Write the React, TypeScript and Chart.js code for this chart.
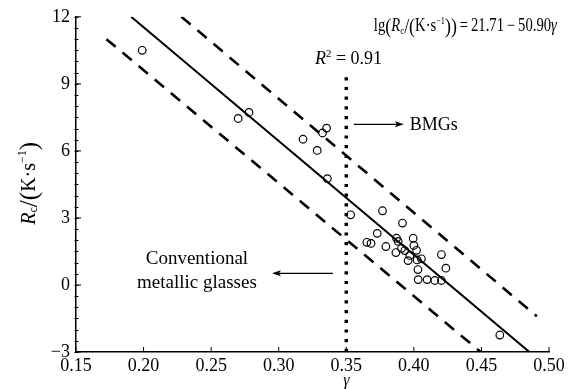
import React, { useEffect, useRef } from "react";
import { Chart, registerables } from "chart.js";

Chart.register(...registerables);

// ---- data ----
const GAMMA = [
  0.199, 0.27, 0.278, 0.318, 0.3285, 0.3324, 0.3354, 0.336, 0.3532, 0.3768,
  0.3916, 0.3729, 0.3652, 0.3683, 0.3793, 0.3872, 0.3884, 0.3909, 0.3995, 0.4,
  0.402, 0.3933, 0.397, 0.3957, 0.4024, 0.3867, 0.4204, 0.4237, 0.403, 0.4032,
  0.4098, 0.4155, 0.4204, 0.4636, 0.4056,
];
const LG_RC = [
  10.5, 7.45, 7.72, 6.52, 6.02, 6.8, 7.02, 4.76, 3.14, 3.32,
  2.77, 2.31, 1.91, 1.86, 1.72, 2.09, 1.95, 1.64, 2.09, 1.77,
  1.55, 1.54, 1.32, 1.09, 1.12, 1.45, 1.36, 0.75, 0.69, 0.24,
  0.24, 0.2, 0.2, -2.24, 1.17,
];
const FIT_X = [0.1908, 0.4855];
const FIT_Y = [12, -3];
const UPPER_X = [0.228, 0.491];
const UPPER_Y = [12, -1.4];
const LOWER_X = [0.1725, 0.4495];
const LOWER_Y = [11.0, -3];
const DIVIDER_X = [0.35, 0.35];
const DIVIDER_Y = [-3, 9.55];
const X_TICKS = [0.15, 0.2, 0.25, 0.3, 0.35, 0.4, 0.45, 0.5];
const Y_TICKS = [-3, 0, 3, 6, 9, 12];

const SERIF = '"Liberation Serif", "Times New Roman", serif';

type Part = { t: string; size?: number; italic?: boolean; dy?: number };

function richWidth(ctx: CanvasRenderingContext2D, parts: Part[], base: number) {
  let w = 0;
  for (const p of parts) {
    ctx.font = `${p.italic ? "italic " : ""}${p.size ?? base}px ${SERIF}`;
    w += ctx.measureText(p.t).width;
  }
  return w;
}

function drawRich(
  ctx: CanvasRenderingContext2D,
  parts: Part[],
  x: number,
  y: number,
  base: number,
  align: "left" | "center" = "left"
) {
  const w = richWidth(ctx, parts, base);
  let cx = align === "center" ? x - w / 2 : x;
  ctx.textAlign = "left";
  for (const p of parts) {
    ctx.font = `${p.italic ? "italic " : ""}${p.size ?? base}px ${SERIF}`;
    ctx.fillText(p.t, cx, y + (p.dy ?? 0));
    cx += ctx.measureText(p.t).width;
  }
}

function arrow(ctx: CanvasRenderingContext2D, x1: number, y: number, x2: number) {
  const dir = Math.sign(x2 - x1);
  ctx.beginPath();
  ctx.moveTo(x1, y);
  ctx.lineTo(x2 - dir * 6, y);
  ctx.lineWidth = 1.2;
  ctx.stroke();
  ctx.beginPath();
  ctx.moveTo(x2, y);
  ctx.lineTo(x2 - dir * 9, y - 3);
  ctx.lineTo(x2 - dir * 7, y);
  ctx.lineTo(x2 - dir * 9, y + 3);
  ctx.closePath();
  ctx.fill();
}

const EQUATION: Part[] = [
  { t: "lg" },
  { t: "(", size: 22, dy: 2 },
  { t: "R", italic: true },
  { t: "c", size: 11, dy: 3 },
  { t: "/", size: 22, dy: 2 },
  { t: "(", size: 22, dy: 2 },
  { t: "K·s" },
  { t: "−1", size: 10, dy: -7 },
  { t: ")", size: 22, dy: 2 },
  { t: ")", size: 22, dy: 2 },
  { t: "\u2009=\u200921.71\u2009−\u200950.90" },
  { t: "γ", italic: true },
];

const deco = {
  id: "deco",
  afterDraw(chart: any) {
    const { ctx, chartArea: a, scales } = chart;
    const xs = scales.x;
    const ys = scales.y;
    const X = (v: number) => xs.getPixelForValue(v);
    const Y = (v: number) => ys.getPixelForValue(v);
    ctx.save();
    ctx.strokeStyle = "#000";
    ctx.fillStyle = "#000";
    ctx.lineWidth = 1;
    // inward major ticks
    ctx.beginPath();
    for (const t of X_TICKS) {
      const px = X(t);
      ctx.moveTo(px, a.bottom);
      ctx.lineTo(px, a.bottom - 5);
    }
    for (const t of Y_TICKS) {
      const py = Y(t);
      ctx.moveTo(a.left, py);
      ctx.lineTo(a.left + 5, py);
    }
    // minor y ticks
    for (let v = -3; v <= 12.001; v += 0.5) {
      const py = Math.round(Y(v)) + 0.5;
      ctx.moveTo(a.left - 1.5, py);
      ctx.lineTo(a.left + 2.5, py);
    }
    ctx.stroke();

    // equation, fitted to its width in the figure
    ctx.textBaseline = "alphabetic";
    const x0 = X(0.3704);
    const x1 = X(0.5058);
    const w = richWidth(ctx, EQUATION, 18);
    const f = Math.min(1, (x1 - x0) / w);
    ctx.save();
    ctx.translate(x0, Y(11.38));
    ctx.scale(f, 1);
    drawRich(ctx, EQUATION, 0, 0, 18);
    ctx.restore();

    // R^2
    drawRich(
      ctx,
      [
        { t: "R", italic: true },
        { t: "2", size: 11, dy: -7 },
        { t: " = 0.91" },
      ],
      X(0.3268),
      Y(9.91),
      18
    );

    // BMGs arrow
    arrow(ctx, X(0.3556), Y(7.19), X(0.3926));
    ctx.font = `18px ${SERIF}`;
    ctx.textBaseline = "middle";
    ctx.textAlign = "left";
    ctx.fillText("BMGs", X(0.397), Y(7.19) + 1);

    // conventional arrow
    arrow(ctx, X(0.3401), Y(0.52), X(0.295));
    ctx.font = `19px ${SERIF}`;
    ctx.textAlign = "center";
    ctx.fillText("Conventional", X(0.2395), Y(1.18));
    ctx.fillText("metallic glasses", X(0.2395), Y(0.07));

    // x title
    ctx.font = `italic 16px ${SERIF}`;
    ctx.fillText("γ", X(0.35), a.bottom + 29);

    // y title
    ctx.translate(30, Y(4.55));
    ctx.rotate(-Math.PI / 2);
    ctx.textBaseline = "middle";
    drawRich(
      ctx,
      [
        { t: "R", italic: true },
        { t: "c", size: 12, dy: 4 },
        { t: "/", size: 25 },
        { t: "(", size: 25 },
        { t: "K·s" },
        { t: "−1", size: 12, dy: -7 },
        { t: ")", size: 25 },
      ],
      0,
      0,
      20,
      "center"
    );
    ctx.restore();
  },
};

export default function App() {
  const ref = useRef<HTMLCanvasElement>(null);
  useEffect(() => {
    if (!ref.current) return;
    const pts = GAMMA.map((g, i) => ({ x: g, y: LG_RC[i] }));
    const seg = (xa: number[], ya: number[]) => xa.map((v, i) => ({ x: v, y: ya[i] }));
    const chart = new Chart(ref.current, {
      type: "scatter",
      data: {
        datasets: [
          {
            data: pts,
            pointStyle: "circle",
            pointRadius: 3.8,
            pointBorderWidth: 1.2,
            pointBorderColor: "#000",
            pointBackgroundColor: "rgba(255,255,255,0)",
          },
          {
            data: seg(FIT_X, FIT_Y),
            showLine: true,
            borderColor: "#000",
            borderWidth: 2,
            pointRadius: 0,
          },
          {
            data: seg(UPPER_X, UPPER_Y),
            showLine: true,
            borderColor: "#000",
            borderWidth: 2.6,
            borderDash: [12, 9],
            pointRadius: 0,
          },
          {
            data: seg(LOWER_X, LOWER_Y),
            showLine: true,
            borderColor: "#000",
            borderWidth: 2.6,
            borderDash: [12, 9],
            pointRadius: 0,
          },
          {
            data: seg(DIVIDER_X, DIVIDER_Y),
            showLine: true,
            borderColor: "#000",
            borderWidth: 3.5,
            borderDash: [3.2, 6.5],
            pointRadius: 0,
          },
        ],
      },
      options: {
        responsive: false,
        animation: false,
        layout: { padding: { top: 15, right: 29, left: 0, bottom: 0 } },
        plugins: { legend: { display: false }, tooltip: { enabled: false } },
        scales: {
          x: {
            type: "linear",
            min: 0.15,
            max: 0.5,
            afterBuildTicks: (s: any) => {
              s.ticks = X_TICKS.map((v) => ({ value: v }));
            },
            afterFit: (s: any) => {
              s.height = 37;
            },
            grid: { display: false, drawTicks: false },
            border: { display: true, color: "#000", width: 1.5 },
            ticks: {
              padding: 3,
              color: "#000",
              font: { family: SERIF, size: 18 },
              callback: (v: any) => Number(v).toFixed(2),
              maxRotation: 0,
              autoSkip: false,
            },
          },
          y: {
            type: "linear",
            min: -3,
            max: 12,
            afterBuildTicks: (s: any) => {
              s.ticks = Y_TICKS.map((v) => ({ value: v }));
            },
            afterFit: (s: any) => {
              s.width = 76;
            },
            grid: { display: false, drawTicks: false },
            border: { display: true, color: "#000", width: 1.5 },
            ticks: {
              padding: 6,
              color: "#000",
              font: { family: SERIF, size: 18 },
              callback: (v: any) => (Number(v) < 0 ? "−" + Math.abs(Number(v)) : String(v)),
              autoSkip: false,
            },
          },
        },
      },
      plugins: [deco],
    });
    return () => chart.destroy();
  }, []);
  return (
    <div style={{ position: "fixed", left: 0, top: 0, width: 578, height: 389, background: "#fff" }}>
      <canvas ref={ref} width={578} height={389} style={{ display: "block" }} />
    </div>
  );
}
